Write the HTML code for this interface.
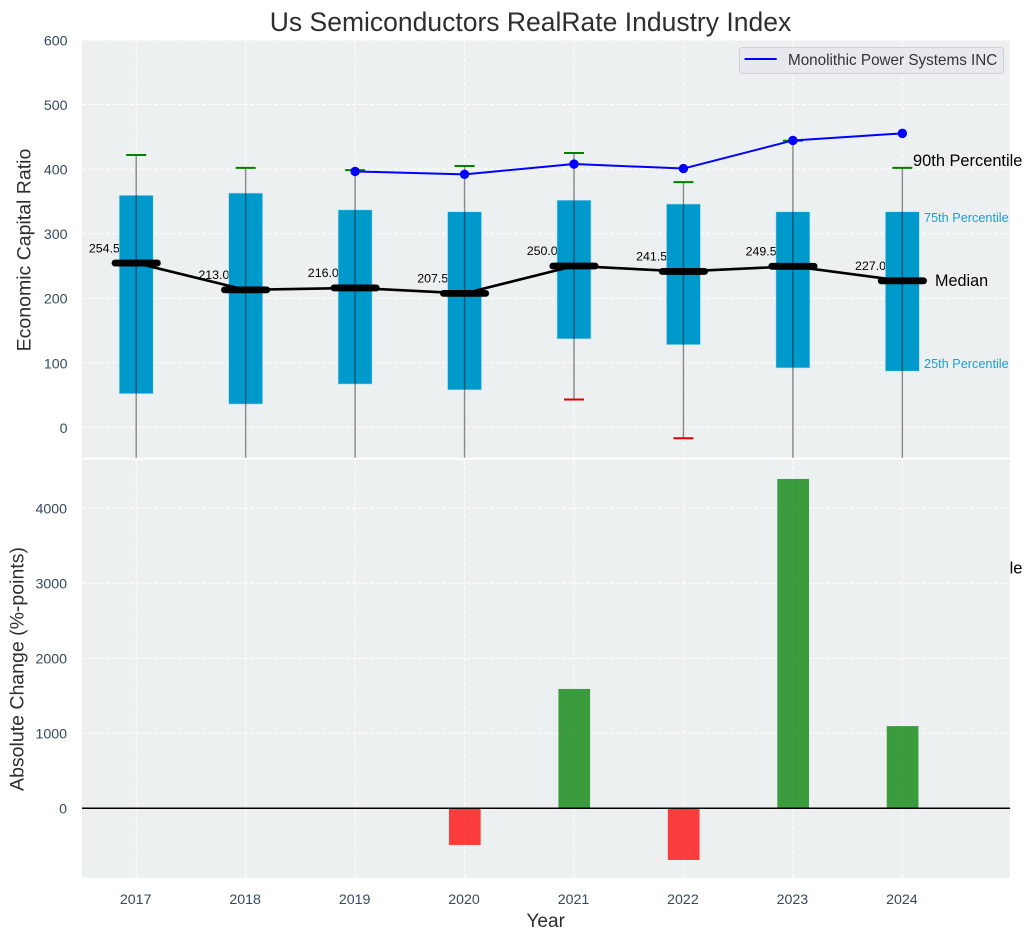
<!DOCTYPE html>
<html lang="en">
<head>
<meta charset="utf-8">
<title>Us Semiconductors RealRate Industry Index</title>
<style>
html,body{margin:0;padding:0;background:#fff;}
#chart{display:block;width:1034px;height:940px;font-family:"Liberation Sans",Arial,sans-serif;}
</style>
</head>
<body>
<svg id="chart" xmlns="http://www.w3.org/2000/svg" width="1034" height="940" viewBox="0 0 1034 940"></svg>
<script>
const years = [2017, 2018, 2019, 2020, 2021, 2022, 2023, 2024];
const q1Values = [52, 36, 67, 58, 137, 128, 92, 87];
const q3Values = [359.5, 363, 337, 334, 352, 346, 334, 334];
const medianValues = [254.5, 213.0, 216.0, 207.5, 250.0, 241.5, 249.5, 227.0];
const p90Values = [422, 402, 398.5, 405, 425, 380, 444, 402];
const p10Values = [-90, -110, -80, -85, 43, -17, -75, -80];
const companyValues = [null, null, 396.5, 392, 408, 401, 444.5, 455.5];
const changeValues = [0, 0, 0, -490, 1590, -690, 4390, 1095];
const upperTicks = [0, 100, 200, 300, 400, 500, 600];
const lowerTicks = [0, 1000, 2000, 3000, 4000];
const companyName = 'Monolithic Power Systems INC';

const NS = 'http://www.w3.org/2000/svg';
const svg = document.getElementById('chart');
const plotLeft = 82, plotRight = 1010;
const upperTop = 40, upperBottom = 457.7;
const lowerTop = 459.7, lowerBottom = 877.7;
const TICK = '#34495e', TITLE = '#2e2e2e', BG = '#ecf0f1';

function xScale(i) { return 136.2 + i * 109.45; }
function yUpper(v) { return 427.3 - v * 0.6453; }
function yLower(v) { return 808.2 - v * 0.075; }

function make(tag, attrs, parent) {
  const el = document.createElementNS(NS, tag);
  for (const k in attrs) el.setAttribute(k, attrs[k]);
  (parent || svg).appendChild(el);
  return el;
}
function makeText(str, attrs, parent) {
  const el = make('text', attrs, parent);
  el.textContent = str;
  return el;
}

let el;
const defs = make('defs', {});
const clipU = make('clipPath', {id: 'clip-upper'}, defs);
make('rect', {x: plotLeft, y: upperTop, width: plotRight - plotLeft, height: upperBottom - upperTop}, clipU);
const clipL = make('clipPath', {id: 'clip-lower'}, defs);
make('rect', {x: plotLeft, y: lowerTop, width: plotRight - plotLeft, height: lowerBottom - lowerTop}, clipL);

el = makeText('Us Semiconductors RealRate Industry Index', {x: 530.5, y: 31, 'text-anchor': 'middle', 'font-size': 26.5, fill: TITLE});



/* ---------- upper panel ---------- */
el = make('rect', {x: plotLeft, y: upperTop, width: plotRight - plotLeft, height: upperBottom - upperTop, fill: BG});



const upperGroup = make('g', {'clip-path': 'url(#clip-upper)'});



upperTicks.forEach(function (t) {
  const y = yUpper(t);
  const g = make('line', {x1: plotLeft, x2: plotRight, y1: y, y2: y, stroke: '#fff', 'stroke-width': 1, 'stroke-dasharray': '4 2'}, upperGroup);
  
  
  const lab = makeText(String(t), {x: 67.5, y: y + 5.5, 'text-anchor': 'end', 'font-size': 14.2, fill: TICK});
  
  
});
years.forEach(function (yr, i) {
  const g = make('line', {x1: xScale(i), x2: xScale(i), y1: upperTop, y2: upperBottom, stroke: '#fff', 'stroke-width': 1, 'stroke-dasharray': '4 2'}, upperGroup);
  
  
});

/* value labels sit beneath the boxes */
medianValues.forEach(function (v, i) {
  const lab = makeText(v.toFixed(1), {x: xScale(i) - 47.3, y: yUpper(v) - 10.8, 'font-size': 12.4, fill: '#000'}, upperGroup);
  
  
});

years.forEach(function (yr, i) {
  const x = xScale(i);
  const box = make('rect', {x: x - 17, y: yUpper(q3Values[i]), width: 34, height: yUpper(q1Values[i]) - yUpper(q3Values[i]), fill: '#0099cc', stroke: '#b5dfee', 'stroke-width': 0.6}, upperGroup);
  
  
});
years.forEach(function (yr, i) {
  const x = xScale(i);
  const w = make('line', {x1: x, x2: x, y1: yUpper(p90Values[i]), y2: yUpper(p10Values[i]), stroke: '#000', 'stroke-opacity': 0.45, 'stroke-width': 1.4}, upperGroup);
  
  
  const capTop = make('line', {x1: x - 10, x2: x + 10, y1: yUpper(p90Values[i]), y2: yUpper(p90Values[i]), stroke: '#008000', 'stroke-width': 2}, upperGroup);
  
  
  const capLow = make('line', {x1: x - 10, x2: x + 10, y1: yUpper(p10Values[i]), y2: yUpper(p10Values[i]), stroke: '#e00000', 'stroke-width': 2}, upperGroup);
  
  
});

el = make('polyline', {points: medianValues.map(function (v, i) { return xScale(i) + ',' + yUpper(v); }).join(' '), fill: 'none', stroke: '#000', 'stroke-width': 2.6, 'stroke-linejoin': 'round'}, upperGroup);



medianValues.forEach(function (v, i) {
  const x = xScale(i), y = yUpper(v);
  const m = make('line', {x1: x - 21.2, x2: x + 21.2, y1: y, y2: y, stroke: '#000', 'stroke-width': 6.8, 'stroke-linecap': 'round'}, upperGroup);
  
  
});

const companyPoints = [];
companyValues.forEach(function (v, i) {
  if (v !== null) companyPoints.push(xScale(i) + ',' + yUpper(v));
});
el = make('polyline', {points: companyPoints.join(' '), fill: 'none', stroke: '#0000ff', 'stroke-width': 2, 'stroke-linejoin': 'round'}, upperGroup);


companyValues.forEach(function (v, i) {
  if (v === null) return;
  const c = make('circle', {cx: xScale(i), cy: yUpper(v), r: 4.7, fill: '#0000ff'}, upperGroup);
  
  
});

/* annotations beside the last year */
const last = years.length - 1;
const noteX = xScale(last) + 10.7;
el = makeText('90th Percentile', {x: noteX, y: yUpper(p90Values[last]) - 2, 'font-size': 16.4, fill: '#000'});


el = makeText('75th Percentile', {x: xScale(last) + 21.7, y: yUpper(q3Values[last]) + 10, 'font-size': 12.7, fill: '#1a9fd0'});


el = makeText('25th Percentile', {x: xScale(last) + 21.7, y: yUpper(q1Values[last]) - 3.3, 'font-size': 12.7, fill: '#1a9fd0'});


el = makeText('Median', {x: xScale(last) + 32.7, y: yUpper(medianValues[last]) + 5.4, 'font-size': 16.2, fill: '#000'});



/* legend */
el = make('rect', {x: 739.5, y: 47.5, width: 264, height: 26, rx: 3, fill: '#e8e9ef', stroke: '#cfd1d6', 'stroke-width': 1});


el = make('line', {x1: 744.5, x2: 776.7, y1: 59, y2: 59, stroke: '#0000ff', 'stroke-width': 2});


el = makeText(companyName, {x: 788, y: 65, 'font-size': 15.25, fill: '#333'});



/* second 90th label runs behind the lower panel, only its tail shows */
el = makeText('90th Percentile', {x: noteX, y: 573.5, 'font-size': 16.4, fill: '#000'});



/* ---------- lower panel ---------- */
el = make('rect', {x: plotLeft, y: lowerTop, width: plotRight - plotLeft, height: lowerBottom - lowerTop, fill: BG});



const lowerGroup = make('g', {'clip-path': 'url(#clip-lower)'});



lowerTicks.forEach(function (t) {
  const y = yLower(t);
  const g = make('line', {x1: plotLeft, x2: plotRight, y1: y, y2: y, stroke: '#fff', 'stroke-width': 1, 'stroke-dasharray': '4 2'}, lowerGroup);
  
  
  const lab = makeText(String(t), {x: 67, y: y + 5.5, 'text-anchor': 'end', 'font-size': 14.2, fill: TICK});
  
  
});
years.forEach(function (yr, i) {
  const g = make('line', {x1: xScale(i), x2: xScale(i), y1: lowerTop, y2: lowerBottom, stroke: '#fff', 'stroke-width': 1, 'stroke-dasharray': '4 2'}, lowerGroup);
  
  
  const lab = makeText(String(yr), {x: xScale(i) - 0.5, y: 904, 'text-anchor': 'middle', 'font-size': 14.2, fill: TICK});
  
  
});

changeValues.forEach(function (v, i) {
  if (v === 0) return;
  const top = Math.min(yLower(v), yLower(0));
  const b = make('rect', {x: xScale(i) - 15.6, y: top, width: 31.7, height: Math.abs(yLower(v) - yLower(0)), fill: v > 0 ? '#008000' : '#ff0000', 'fill-opacity': 0.75}, lowerGroup);
  
  
});

el = make('line', {x1: plotLeft, x2: plotRight, y1: yLower(0), y2: yLower(0), stroke: '#000', 'stroke-width': 1.5}, lowerGroup);



/* axis titles */
el = makeText('Economic Capital Ratio', {transform: 'translate(30.5 250) rotate(-90)', 'text-anchor': 'middle', 'font-size': 19.5, fill: TITLE});


el = makeText('Absolute Change (%-points)', {transform: 'translate(23.5 669) rotate(-90)', 'text-anchor': 'middle', 'font-size': 19.5, fill: TITLE});


el = makeText('Year', {x: 545.7, y: 927, 'text-anchor': 'middle', 'font-size': 19, fill: TITLE});


</script>
</body>
</html>
